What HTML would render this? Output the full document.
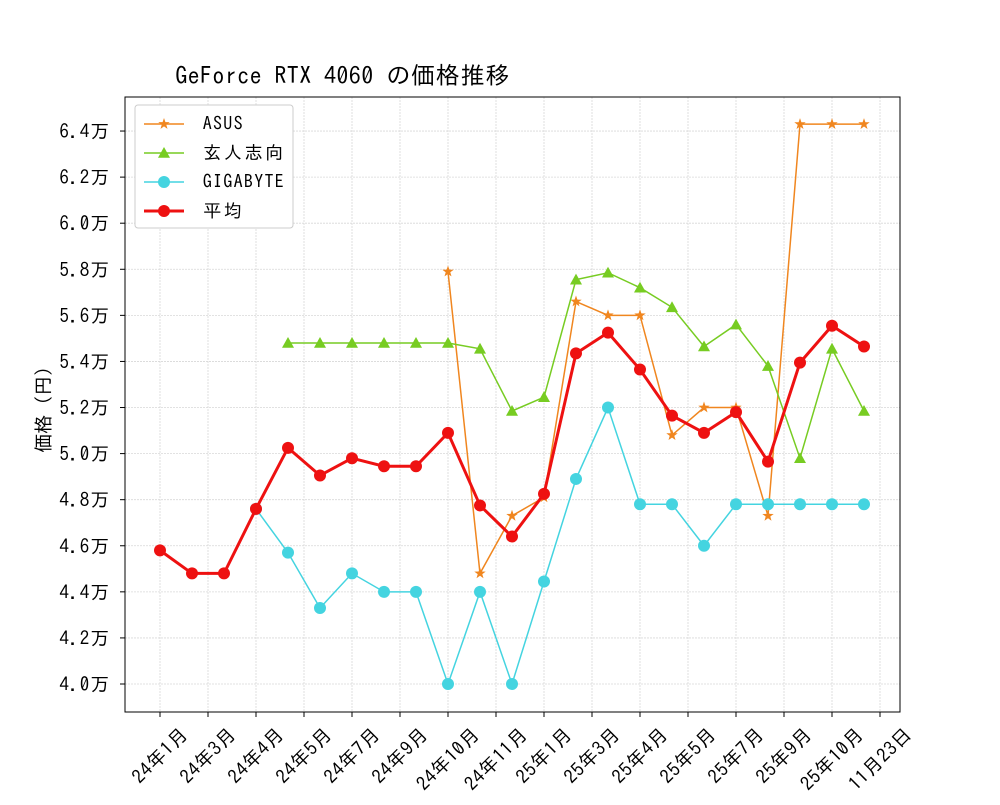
<!DOCTYPE html>
<html><head><meta charset="utf-8"><style>
body{margin:0;background:#fff}
svg{font-family:"IPAGothic","Noto Sans CJK JP",monospace}
</style></head><body>
<svg id="c" width="1000" height="800" xmlns="http://www.w3.org/2000/svg"></svg>
<script>
const xLabels=["24年1月","24年3月","24年4月","24年5月","24年7月","24年9月","24年10月","24年11月","25年1月","25年3月","25年4月","25年5月","25年7月","25年9月","25年10月","11月23日"];
const yTicks=[4.0,4.2,4.4,4.6,4.8,5.0,5.2,5.4,5.6,5.8,6.0,6.2,6.4];
const asus=[null,null,null,null,null,null,null,null,null,5.79,4.48,4.73,4.81,5.66,5.60,5.60,5.08,5.20,5.20,4.73,6.43,6.43,6.43];
const gen=[null,null,null,null,5.48,5.48,5.48,5.48,5.48,5.48,5.455,5.185,5.245,5.755,5.785,5.72,5.635,5.465,5.56,5.38,4.98,5.455,5.185];
const giga=[null,null,null,4.76,4.57,4.33,4.48,4.40,4.40,4.0,4.40,4.0,4.445,4.89,5.20,4.78,4.78,4.60,4.78,4.78,4.78,4.78,4.78];
const avg=[4.58,4.48,4.48,4.76,5.025,4.905,4.98,4.945,4.945,5.09,4.775,4.64,4.825,5.435,5.525,5.365,5.165,5.09,5.18,4.965,5.395,5.555,5.465];
const L=125,R=900,T=97,B=712;
const X=i=>160+32*i;
const Y=v=>684-(v-4.0)/0.2*46.08;
const svg=document.getElementById('c');const NS="http://www.w3.org/2000/svg";
function el(t,a,p){const e=document.createElementNS(NS,t);for(const k in a)e.setAttribute(k,a[k]);(p||svg).appendChild(e);return e;}
function units(s){let u=0;for(const ch of s)u+=ch.charCodeAt(0)<0x2000?1:2;return u;}
function mono(t,s,half,x,anchor){const w=units(s)*half;let x0=anchor==='end'?x-w:anchor==='middle'?x-w/2:x;
const xs=[];let cx=x0;for(const ch of s){const cw=(ch.charCodeAt(0)<0x2000?1:2)*half;xs.push((cx+cw/2).toFixed(1));cx+=cw;}
t.setAttribute('x',xs.join(' '));t.setAttribute('text-anchor','middle');t.textContent=s;}
xLabels.forEach((lab,k)=>{const x=X(k*1.5);
const g=el('line',{x1:x,x2:x,y1:T,y2:B,stroke:'#d8d8d8','stroke-width':0.8,'stroke-dasharray':'2,1'});

el('line',{x1:x,x2:x,y1:B,y2:B+5,stroke:'#000'});
const half=10,fs=19;const len=units(lab)*half;const h=(len+fs)*0.707;const cy=B+12+h/2;
const t=el('text',{y:cy+fs*0.35,'font-size':fs,transform:`rotate(-45 ${x} ${cy})`});mono(t,lab,half,x,'middle');
});
yTicks.forEach(v=>{const y=Y(v);
const g=el('line',{x1:L,x2:R,y1:y,y2:y,stroke:'#d8d8d8','stroke-width':0.8,'stroke-dasharray':'2,1'});

el('line',{x1:L-5,x2:L,y1:y,y2:y,stroke:'#000'});
const t=el('text',{y:y+7,'font-size':19});mono(t,v.toFixed(1)+'万',10.2,L-15,'end');
});
const fr=el('rect',{x:L,y:T,width:R-L,height:B-T,fill:'none',stroke:'#000'});

const ti=el('text',{y:84,'font-size':24});mono(ti,'GeForce RTX 4060 の価格推移',12.4,175,'start');

const yt=el('text',{y:405+7,'font-size':19,transform:'rotate(-90 43 405)'});mono(yt,'価格（円）',9.6,43,'middle');

function marker(g,type,x,y,c,s){
if(type==='star'){let p=[];for(let i=0;i<10;i++){const r=i%2?s*0.4:s;const a=-Math.PI/2+i*Math.PI/5;p.push((x+r*Math.cos(a)).toFixed(1)+','+(y+r*Math.sin(a)).toFixed(1));}
return el('polygon',{points:p.join(' '),fill:c},g);}
if(type==='tri')return el('polygon',{points:`${x},${y-s} ${x-s},${y+s*0.8} ${x+s},${y+s*0.8}`,fill:c},g);
return el('circle',{cx:x,cy:y,r:s,fill:c},g);}
function series(data,name,c,w,type,s){
const g=el('g',{});
let pts=[];data.forEach((v,i)=>{if(v!==null)pts.push([X(i),Y(v)]);});
el('polyline',{points:pts.map(p=>p.join(',')).join(' '),fill:'none',stroke:c,'stroke-width':w},g);
pts.forEach(p=>{const m=marker(g,type,p[0],p[1],c,s);});}
series(asus,'asus','#f0861f',1.5,'star',6);
series(gen,'gen','#77cc22',1.5,'tri',6);
series(giga,'gigabyte','#44d4e0',1.5,'circle',6);
series(avg,'average','#ee1111',3,'circle',6);
const lg=el('g',{});
el('rect',{x:135,y:105,width:158,height:123,fill:'#fff',stroke:'#ccc',rx:3},lg);
[['ASUS','#f0861f','star',1.5],['玄人志向','#77cc22','tri',1.5],['GIGABYTE','#44d4e0','circle',1.5],['平均','#ee1111','circle',3]].forEach((e,k)=>{
const y=124+29*k;const gg=el('g',{},lg);
el('line',{x1:144,x2:184,y1:y,y2:y,stroke:e[1],'stroke-width':e[3]},gg);marker(gg,e[2],164,y,e[1],6);
const t=el('text',{y:y+6,'font-size':18},gg);mono(t,e[0],10.3,202,'start');});
</script>
</body></html>
